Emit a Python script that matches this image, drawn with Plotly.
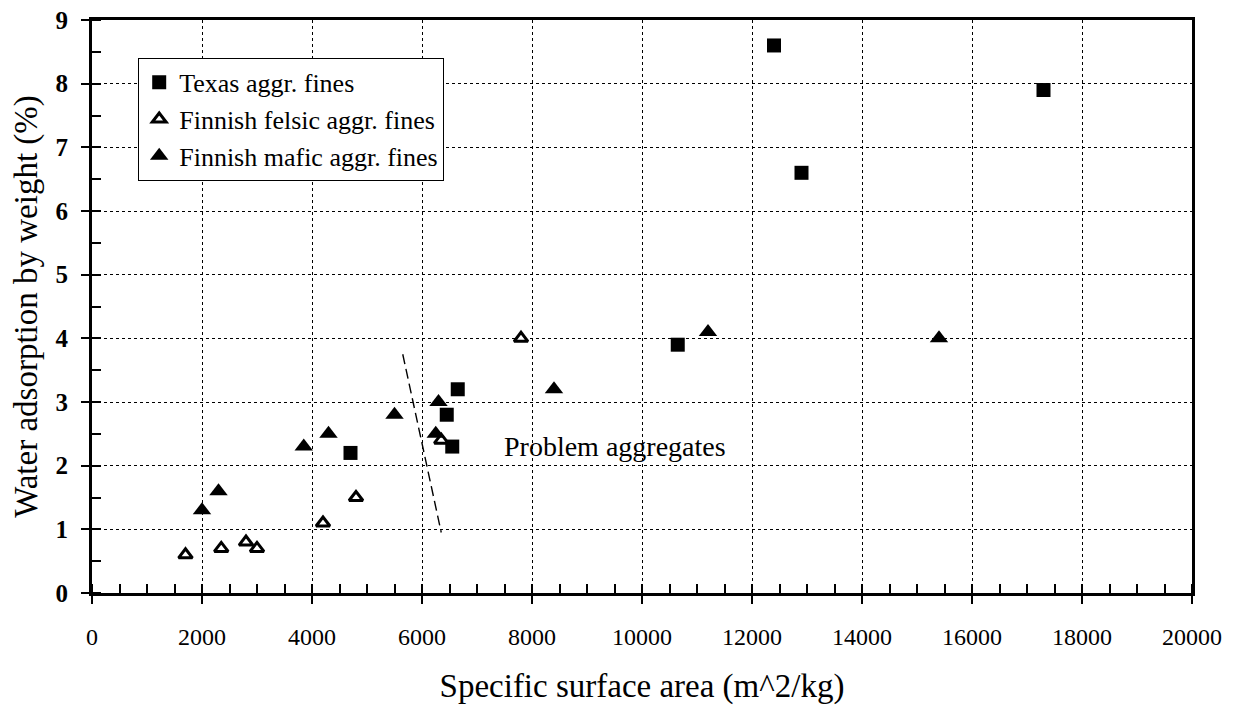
import plotly.graph_objects as go

# Water adsorption vs specific surface area of aggregate fines
texas_ssa = [12400, 17300, 12900, 10650, 6650, 6450, 6550, 4700]
texas_ads = [8.6, 7.9, 6.6, 3.9, 3.2, 2.8, 2.3, 2.2]

felsic_ssa = [1700, 2350, 2800, 3000, 4200, 4800, 6350, 7800]
felsic_ads = [0.6, 0.7, 0.8, 0.7, 1.1, 1.5, 2.4, 4.0]

mafic_ssa = [2000, 2300, 3850, 4300, 5500, 6250, 6300, 8400, 11200, 15400]
mafic_ads = [1.3, 1.6, 2.3, 2.5, 2.8, 2.5, 3.0, 3.2, 4.1, 4.0]

# boundary separating problem aggregates
boundary_ssa = [5650, 6350]
boundary_ads = [3.75, 0.95]

x_ticks = list(range(0, 20001, 2000))
y_ticks = list(range(0, 10))

SERIF = "Liberation Serif, Times New Roman, serif"

fig = go.Figure()

fig.add_trace(go.Scatter(
    x=texas_ssa, y=texas_ads, mode="markers", name="Texas aggr. fines",
    marker=dict(symbol="square", size=14, color="black"),
))
fig.add_trace(go.Scatter(
    x=felsic_ssa, y=felsic_ads, mode="markers", name="Finnish felsic aggr. fines",
    marker=dict(symbol="triangle-up", size=12, color="white",
                line=dict(color="black", width=3)),
))
fig.add_trace(go.Scatter(
    x=mafic_ssa, y=mafic_ads, mode="markers", name="Finnish mafic aggr. fines",
    marker=dict(symbol="triangle-up", size=16, color="black"),
))
fig.add_trace(go.Scatter(
    x=boundary_ssa, y=boundary_ads, mode="lines", showlegend=False,
    line=dict(color="black", width=1.4, dash="10px,5px"),
    xaxis="x2", yaxis="y2",
))

fig.add_annotation(
    x=7450, y=2.3, text="Problem aggregates", showarrow=False,
    xanchor="left", yanchor="middle",
    font=dict(family=SERIF, size=28, color="black"),
)

grid = dict(showgrid=True, gridcolor="black", gridwidth=1, griddash="dot",
            zeroline=False, automargin=False)

fig.update_layout(
    width=1237, height=707,
    margin=dict(l=92, r=45, t=20, b=114),
    paper_bgcolor="white", plot_bgcolor="white",
    font=dict(family=SERIF, color="black"),
    showlegend=True,
    legend=dict(
        x=0.042, y=0.934, xanchor="left", yanchor="top",
        bgcolor="white", bordercolor="black", borderwidth=1,
        font=dict(family=SERIF, size=26, color="black"),
        tracegroupgap=0, itemsizing="trace", itemwidth=30,
    ),
    xaxis=dict(
        range=[0, 20000], tickvals=x_ticks, ticktext=[str(v) for v in x_ticks],
        ticks="outside", ticklen=8, tickwidth=2, tickcolor="black",
        minor=dict(ticks="inside", dtick=500, ticklen=9, tickwidth=2,
                   tickcolor="black", showgrid=False),
        showline=True, linewidth=3, linecolor="black", mirror=True,
        tickfont=dict(family=SERIF, size=24),
        ticklabelstandoff=12,
        title=dict(text="Specific surface area (m^2/kg)",
                   font=dict(family=SERIF, size=33), standoff=26),
        **grid,
    ),
    yaxis=dict(
        range=[0, 9], tickvals=y_ticks, ticktext=[str(v) for v in y_ticks],
        ticks="outside", ticklen=8, tickwidth=2, tickcolor="black",
        minor=dict(ticks="inside", dtick=0.5, ticklen=9, tickwidth=2,
                   tickcolor="black", showgrid=False),
        showline=True, linewidth=3, linecolor="black", mirror=True,
        tickfont=dict(family=SERIF, size=25, weight="bold"),
        ticklabelstandoff=8,
        title=dict(text="Water adsorption by weight (%)",
                   font=dict(family=SERIF, size=33), standoff=8),
        **grid,
    ),
    # overlay axes carry the inner half of the major ticks
    xaxis2=dict(range=[0, 20000], overlaying="x", anchor="y", side="bottom",
                tickvals=x_ticks, ticks="inside", ticklen=8, tickwidth=2,
                tickcolor="black", showticklabels=False, showgrid=False,
                zeroline=False, showline=False),
    yaxis2=dict(range=[0, 9], overlaying="y", anchor="x", side="left",
                tickvals=y_ticks, ticks="inside", ticklen=8, tickwidth=2,
                tickcolor="black", showticklabels=False, showgrid=False,
                zeroline=False, showline=False),
)

fig.write_html("out.html")
